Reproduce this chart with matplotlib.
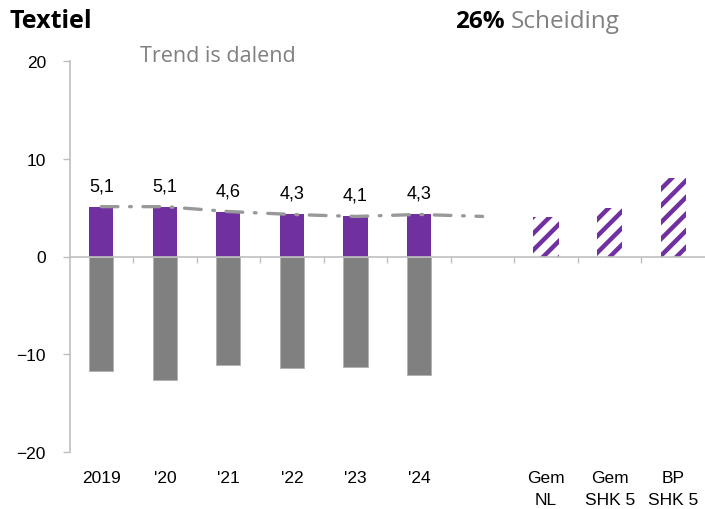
import numpy as np
import matplotlib.pyplot as plt
from matplotlib.transforms import blended_transform_factory

# data
years = ["2019", "'20", "'21", "'22", "'23", "'24"]
benchmarks = ["Gem\nNL", "Gem\nSHK 5", "BP\nSHK 5"]
purple_vals = [5.1, 5.1, 4.6, 4.3, 4.1, 4.3]
gray_vals = [-11.7, -12.6, -11.1, -11.4, -11.3, -12.1]
bench_vals = [4.0, 5.0, 8.0]
trend_vals = [5.1, 5.1, 4.6, 4.3, 4.1, 4.3, 4.1]
share = "26%"

purple = "#7030A0"
grey = "#808080"
axis_grey = "#BFBFBF"

plt.rcParams["font.family"] = ["Liberation Sans", "DejaVu Sans"]
plt.rcParams["hatch.linewidth"] = 3.2

fig = plt.figure(figsize=(7.05, 5.10), dpi=100)
ax = fig.add_axes([69.5 / 705, 1 - 453 / 510, 1 - 69.5 / 705, (453 - 62) / 510])

x_years = np.arange(len(years))
x_bench = np.arange(len(benchmarks)) + len(years) + 1
w = 0.38

ax.bar(x_years, purple_vals, width=w, color=purple, zorder=2)
ax.bar(x_years, gray_vals, width=w, color=grey, edgecolor="#B0B0B0", linewidth=0.6, zorder=2)
ax.bar(x_bench, bench_vals, width=w + 0.02, color="white", edgecolor=purple,
       hatch="//", linewidth=0, zorder=2)

x_trend = np.arange(len(trend_vals))
ax.plot(x_trend, trend_vals, color="#999999", lw=2.4, linestyle=(0, (5, 3.5, 0.5, 3.5)),
        dash_capstyle="round", zorder=3)

for xi, v in zip(x_years, purple_vals):
    ax.annotate(f"{v:.1f}".replace(".", ","), (xi, v), xytext=(0, 9),
                textcoords="offset points", ha="center", va="bottom", fontsize=13)

ax.set_xlim(-0.5, 9.5)
ax.set_ylim(-20, 20)
ax.set_yticks([-20, -10, 0, 10, 20])
ax.tick_params(axis="y", direction="out", length=5, width=1, color=axis_grey,
               labelsize=12.5, pad=12)

ax.set_xticks([])
ax.set_xticks(np.arange(0.5, 9.0, 1.0), minor=True)
ax.tick_params(axis="x", which="minor", direction="out", length=4, width=1, color=axis_grey)

ax.spines["top"].set_visible(False)
ax.spines["right"].set_visible(False)
ax.spines["left"].set_color(axis_grey)
ax.spines["left"].set_linewidth(1.2)
ax.spines["bottom"].set_position(("data", 0))
ax.spines["bottom"].set_color(axis_grey)
ax.spines["bottom"].set_linewidth(1.2)

trans = blended_transform_factory(ax.transData, ax.transAxes)
for xi, lab in zip(list(x_years) + list(x_bench), years + benchmarks):
    ax.annotate(lab, (xi, 0), xycoords=trans, xytext=(0, -13), textcoords="offset points",
                ha="center", va="top", fontsize=12.5, linespacing=1.55)

title_font = ["Open Sans", "DejaVu Sans"]
fig.text(10 / 705, 1 - 22 / 510, "Textiel", fontsize=18, fontweight="bold",
         family=title_font, va="center", ha="left")
fig.text(505 / 705, 1 - 22 / 510, share, fontsize=17.5, fontweight="bold",
         family=title_font, va="center", ha="right")
fig.text(511 / 705, 1 - 22 / 510, "Scheiding", fontsize=17.5, color=grey,
         family=title_font, va="center", ha="left")
fig.text(140 / 705, 1 - 56 / 510, "Trend is dalend", fontsize=15.5, color=grey,
         family=title_font, va="center", ha="left")

fig.savefig("out.png", dpi=100)
